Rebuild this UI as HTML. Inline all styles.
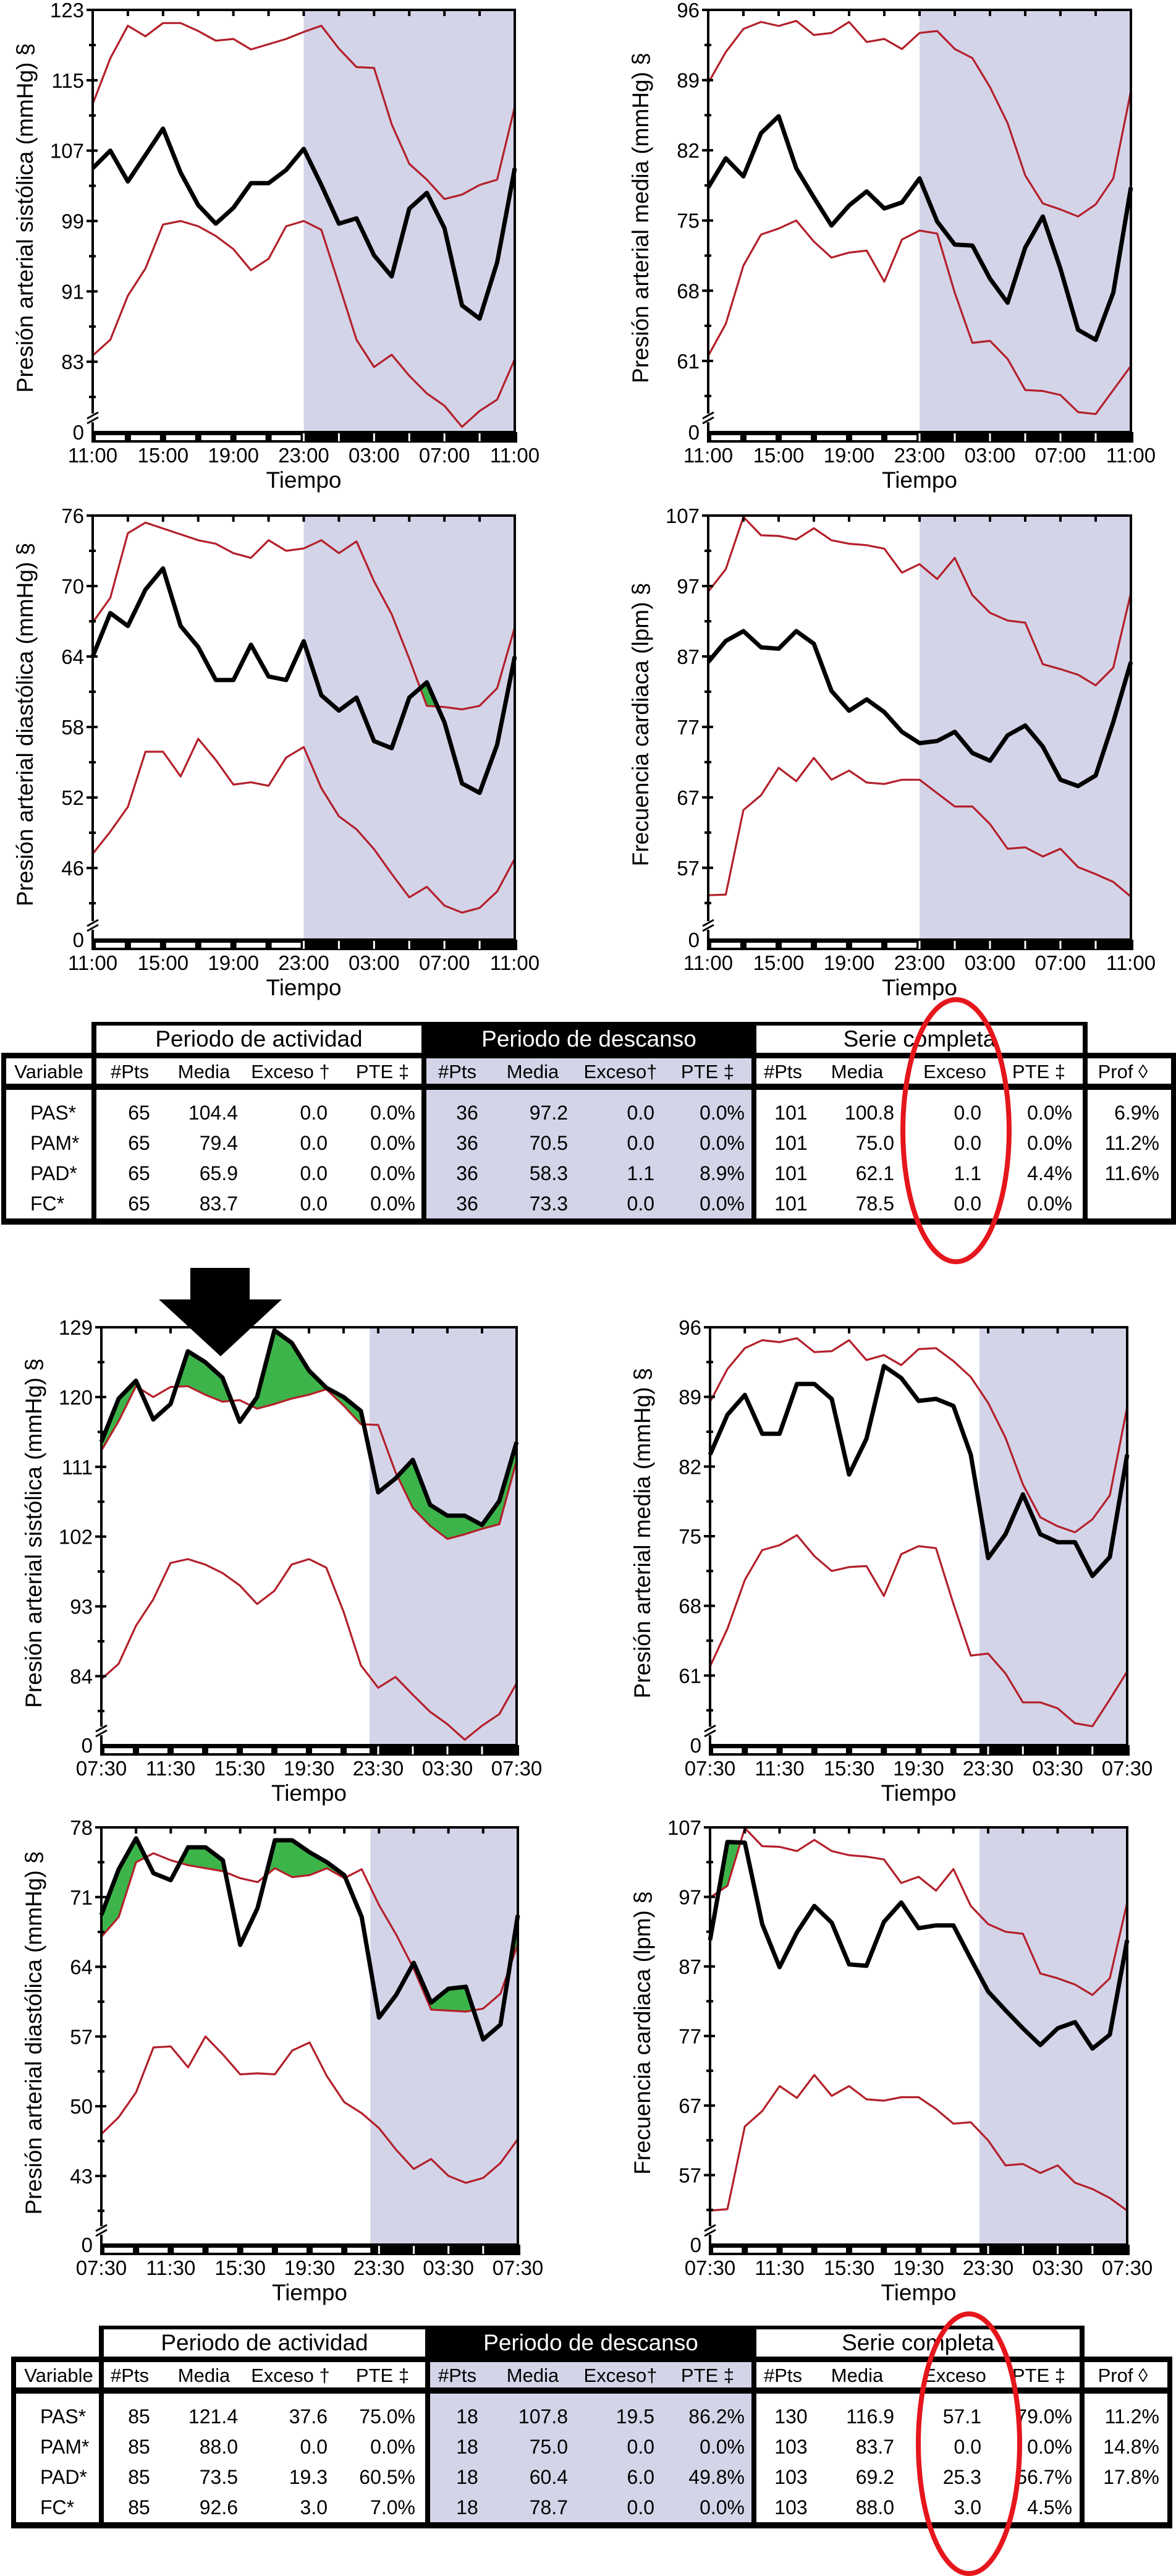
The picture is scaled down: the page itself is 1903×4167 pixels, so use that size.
<!DOCTYPE html>
<html><head><meta charset="utf-8"><title>MAPA</title>
<style>
html,body{margin:0;padding:0;background:#fff;}
svg{display:block;}
text{font-family:"Liberation Sans",Arial,sans-serif;}
</style></head>
<body>
<svg id="fig" xmlns="http://www.w3.org/2000/svg" width="1903" height="4167" viewBox="0 0 1903 4167">
<rect x="0" y="0" width="1903" height="4167" fill="#fff"/>
<g id="arrow">
<rect x="308" y="2051" width="96" height="52" fill="#000"/>
<polygon points="257,2102 456,2102 357,2194" fill="#000"/>
</g>
</svg>
<script>
const hours = [0,1,2,3,4,5,6,7,8,9,10,11,12,13,14,15,16,17,18,19,20,21,22,23,24];
const labels1 = ['11:00','15:00','19:00','23:00','03:00','07:00','11:00'];
const labels2 = ['07:30','11:30','15:30','19:30','23:30','03:30','07:30'];

const pas1Ticks = [123,115,107,99,91,83];
const pas1Mean = [105.0,107.0,103.5,106.5,109.5,104.5,100.8,98.7,100.5,103.3,103.3,104.8,107.2,103.1,98.7,99.3,95.1,92.7,100.4,102.2,98.2,89.4,87.9,94.3,105.0];
const pas1Upper = [112.3,117.5,121.2,120.0,121.5,121.5,120.6,119.5,119.7,118.5,119.1,119.7,120.5,121.2,118.6,116.5,116.4,110.0,105.5,103.7,101.5,102.0,103.1,103.7,112.0];
const pas1Lower = [83.7,85.5,90.5,93.6,98.6,99.0,98.4,97.3,95.8,93.4,94.7,98.4,99.0,98.0,91.8,85.5,82.4,83.8,81.4,79.4,78.0,75.6,77.4,78.7,83.3];

const pam1Ticks = [96,89,82,75,68,61];
const pam1Mean = [78.3,81.2,79.4,83.7,85.4,80.2,77.3,74.5,76.5,77.9,76.2,76.8,79.2,74.9,72.6,72.5,69.2,66.8,72.3,75.4,70.2,64.1,63.1,67.8,78.3];
const pam1Upper = [88.7,91.8,94.1,94.8,94.4,94.9,93.5,93.7,94.8,92.8,93.1,92.1,93.7,93.9,92.1,91.2,88.3,84.7,79.5,76.7,76.1,75.4,76.6,79.2,87.9];
const pam1Lower = [61.5,64.7,70.5,73.6,74.2,75.0,72.9,71.3,71.8,72.0,68.9,73.1,74.0,73.7,67.8,62.8,63.0,61.2,58.1,58.0,57.6,55.9,55.7,58.1,60.5];

const pad1Ticks = [76,70,64,58,52,46];
const pad1Mean = [64.0,67.7,66.6,69.7,71.5,66.6,64.8,62.0,62.0,65.0,62.3,62.0,65.3,60.7,59.4,60.5,56.8,56.2,60.5,61.8,58.4,53.2,52.4,56.5,64.0];
const pad1Upper = [66.9,69.0,74.5,75.4,74.9,74.4,73.9,73.6,72.8,72.4,73.9,73.0,73.2,73.9,72.8,73.8,70.4,67.6,63.8,59.8,59.7,59.5,59.8,61.3,66.5];
const pad1Lower = [47.2,49.1,51.2,55.9,55.9,53.8,57.0,55.2,53.1,53.3,53.0,55.4,56.3,52.8,50.4,49.3,47.6,45.5,43.5,44.4,42.8,42.2,42.6,44.0,46.8];

const fc1Ticks = [107,97,87,77,67,57];
const fc1Mean = [86.2,89.2,90.6,88.3,88.1,90.6,88.8,82.1,79.3,80.9,79.1,76.3,74.7,75.0,76.3,73.3,72.2,75.8,77.2,74.2,69.5,68.6,70.1,77.7,86.2];
const fc1Upper = [96.2,99.4,106.8,104.2,104.1,103.6,105.2,103.5,103.0,102.8,102.3,98.9,100.1,98.0,101.0,95.7,93.2,92.1,91.8,85.9,85.2,84.4,82.9,85.4,96.0];
const fc1Lower = [53.1,53.2,65.2,67.3,71.2,69.3,72.6,69.5,70.8,69.1,68.9,69.5,69.5,67.6,65.7,65.7,63.2,59.7,59.9,58.6,59.7,57.1,56.1,55.0,52.9];

const pas2Ticks = [129,120,111,102,93,84];
const pas2Mean = [114.2,119.8,122.1,117.1,119.1,125.9,124.5,122.5,116.8,120.0,128.6,127.0,123.4,121.2,120.0,118.2,107.7,109.5,111.9,106.1,104.7,104.7,103.5,106.6,114.2];
const pas2Upper = [113.1,116.9,121.4,120.0,121.3,121.4,120.3,119.4,119.6,118.5,119.1,119.8,120.3,121.0,118.9,116.5,116.4,110.3,105.7,103.4,101.7,102.3,103.0,103.6,111.8];
const pas2Lower = [83.6,85.6,90.5,93.9,98.6,99.1,98.4,97.3,95.7,93.3,95.0,98.4,99.1,98.0,92.3,85.4,82.5,83.9,81.6,79.4,77.8,75.8,77.6,79.1,83.1];

const pam2Ticks = [96,89,82,75,68,61];
const pam2Mean = [83.2,87.2,89.2,85.3,85.3,90.3,90.3,88.8,81.2,84.8,92.1,90.9,88.6,88.8,88.1,83.2,72.8,75.2,79.2,75.2,74.4,74.4,71.0,72.9,83.2];
const pam2Upper = [88.5,91.8,93.9,94.7,94.5,94.9,93.5,93.6,94.7,92.7,93.2,92.2,93.8,93.9,92.6,91.0,88.4,84.9,80.2,76.9,76.0,75.4,76.7,79.1,88.0];
const pam2Lower = [61.9,65.7,70.6,73.6,74.1,75.1,73.0,71.5,71.9,72.0,69.0,73.2,74.0,73.8,68.2,63.0,63.2,61.2,58.3,58.3,57.7,56.2,55.9,58.6,61.4];

const pad2Ticks = [78,71,64,57,50,43];
const pad2Mean = [69.2,73.8,76.9,73.4,72.7,76.0,76.0,74.7,66.2,69.9,76.7,76.7,75.5,74.5,73.2,69.0,58.9,61.2,64.4,60.4,61.8,62.0,56.7,58.2,69.2];
const pad2Upper = [67.0,69.0,74.5,75.4,74.7,74.2,73.9,73.6,72.9,72.5,73.9,73.0,73.2,73.9,72.9,73.8,70.2,67.2,63.8,59.7,59.6,59.5,59.8,61.3,66.3];
const pad2Lower = [47.2,48.9,51.4,55.9,56.0,53.9,57.0,55.2,53.2,53.3,53.2,55.6,56.4,53.0,50.4,49.3,47.8,45.6,43.7,44.7,43.0,42.3,42.8,44.3,46.7];

const fc2Ticks = [107,97,87,77,67,57];
const fc2Mean = [90.8,104.9,104.8,93.1,86.9,91.9,95.7,93.3,87.3,87.1,93.4,96.2,92.5,92.9,92.9,88.1,83.4,80.7,78.1,75.7,78.1,79.0,75.2,77.2,90.8];
const fc2Upper = [96.9,98.6,106.9,104.3,104.2,103.6,105.2,103.6,103.0,102.8,102.4,99.0,99.9,97.9,101.0,95.7,93.1,92.0,91.7,86.0,85.3,84.4,82.9,85.3,96.2];
const fc2Lower = [51.9,52.1,64.0,66.2,69.8,68.1,71.4,68.4,69.8,67.9,67.7,68.2,68.2,66.5,64.4,64.6,62.0,58.4,58.6,57.3,58.4,55.9,55.0,53.7,51.9];

const tableHeadCols = ['Variable','#Pts','Media','Exceso †','PTE ‡','#Pts','Media','Exceso†','PTE ‡','#Pts','Media','Exceso','PTE ‡','Prof ◊'];
const tableVars = ['PAS*','PAM*','PAD*','FC*'];
const table1Rows = [
 ['65','104.4','0.0','0.0%','36','97.2','0.0','0.0%','101','100.8','0.0','0.0%','6.9%'],
 ['65','79.4','0.0','0.0%','36','70.5','0.0','0.0%','101','75.0','0.0','0.0%','11.2%'],
 ['65','65.9','0.0','0.0%','36','58.3','1.1','8.9%','101','62.1','1.1','4.4%','11.6%'],
 ['65','83.7','0.0','0.0%','36','73.3','0.0','0.0%','101','78.5','0.0','0.0%','']
];
const table2Rows = [
 ['85','121.4','37.6','75.0%','18','107.8','19.5','86.2%','130','116.9','57.1','79.0%','11.2%'],
 ['85','88.0','0.0','0.0%','18','75.0','0.0','0.0%','103','83.7','0.0','0.0%','14.8%'],
 ['85','73.5','19.3','60.5%','18','60.4','6.0','49.8%','103','69.2','25.3','56.7%','17.8%'],
 ['85','92.6','3.0','7.0%','18','78.7','0.0','0.0%','103','88.0','3.0','4.5%','']
];

const NS = 'http://www.w3.org/2000/svg';
const svg = document.getElementById('fig');
function mk(tag, attrs, parent){
  const e = document.createElementNS(NS, tag);
  for (const k in attrs) e.setAttribute(k, attrs[k]);
  (parent || svg).appendChild(e);
  return e;
}
const RED = '#b3202a', LAV = '#d4d4e9', GREEN = '#3db44a';

function drawChart(c){
  const g = mk('g', {});
  
  
  const x = h => c.L + (c.R - c.L) * h / 24;
  const y = v => c.T + (c.vTop - v) / (c.vTop - c.vBot) * (c.B - c.T);
  const xs = x(c.shade);
  const sh = mk('rect', {x: xs, y: c.T, width: c.R - xs, height: c.B - c.T, fill: LAV}, g);
  
  
  // green excess fill
  const cid = c.id + '-clip';
  const cp = mk('clipPath', {id: cid}, g);
  let cd = 'M' + x(0) + ',' + (c.T - 20);
  hours.forEach((h, i) => { cd += ' L' + x(h) + ',' + y(c.upper[i]); });
  cd += ' L' + x(24) + ',' + (c.T - 20) + ' Z';
  mk('path', {d: cd}, cp);
  let fd = '';
  hours.forEach((h, i) => { fd += (i ? ' L' : 'M') + x(h) + ',' + y(c.mean[i]); });
  for (let i = hours.length - 1; i >= 0; i--) fd += ' L' + x(hours[i]) + ',' + y(c.upper[i]);
  fd += ' Z';
  const gf = mk('path', {d: fd, fill: GREEN, 'clip-path': 'url(#' + cid + ')'}, g);
  
  
  function line(arr, color, w){
    let d = '';
    hours.forEach((h, i) => { d += (i ? ' L' : 'M') + x(h).toFixed(1) + ',' + y(arr[i]).toFixed(1); });
    return mk('path', {d: d, fill: 'none', stroke: color, 'stroke-width': w, 'stroke-linejoin': 'round'}, g);
  }
  const up = line(c.upper, RED, 3.2);
  
  
  const lo = line(c.lower, RED, 3.2);
  
  
  const me = line(c.mean, '#000', 7);
  
  
  // frame
  const fr = mk('rect', {x: c.L, y: c.T, width: c.R - c.L, height: c.B - c.T, fill: 'none', stroke: '#000', 'stroke-width': 4}, g);
  
  
  // y ticks
  c.ticks.forEach((v, i) => {
    mk('line', {x1: c.L - 10, x2: c.L + 8, y1: y(v), y2: y(v), stroke: '#000', 'stroke-width': 4}, g);
    const t = mk('text', {x: c.L - 14, y: y(v) + 12, 'text-anchor': 'end', 'font-size': 33}, g);
    t.textContent = v;
    
    
    const step = c.ticks[0] - c.ticks[1];
    const mv = v - step / 2;
    mk('line', {x1: c.L - 6, x2: c.L + 5, y1: y(mv), y2: y(mv), stroke: '#000', 'stroke-width': 4}, g);
  });
  const z = mk('text', {x: c.L - 14, y: c.B + 12, 'text-anchor': 'end', 'font-size': 33}, g);
  z.textContent = '0';
  
  
  // axis break
  mk('rect', {x: c.L - 8, y: c.B - 30, width: 16, height: 14, fill: '#fff'}, g);
  mk('line', {x1: c.L - 9, y1: c.B - 14, x2: c.L + 9, y2: c.B - 24, stroke: '#000', 'stroke-width': 3}, g);
  mk('line', {x1: c.L - 9, y1: c.B - 22, x2: c.L + 9, y2: c.B - 32, stroke: '#000', 'stroke-width': 3}, g);
  // top ticks
  for (let k = 0; k <= 12; k++) mk('line', {x1: x(2 * k), x2: x(2 * k), y1: c.T, y2: c.T + 10, stroke: '#000', 'stroke-width': 4}, g);
  // time bar
  const bar = mk('rect', {x: c.L - 2, y: c.B, width: c.R - c.L + 6, height: 17, fill: '#000'}, g);
  
  
  for (let k = 0; k < 12; k++) {
    const x0 = x(2 * k), x1 = x(2 * k + 2);
    if (x0 < xs) {
      const xe = Math.min(x1, xs);
      mk('rect', {x: x0 + 5, y: c.B + 5, width: Math.max(0, xe - x0 - (x1 <= xs ? 10 : 5)), height: 8, fill: '#fff'}, g);
    } else {
      mk('rect', {x: x0 - 1.5, y: c.B + 2, width: 3, height: 13, fill: '#fff'}, g);
    }
  }
  // x labels
  c.labels.forEach((s, i) => {
    const t = mk('text', {x: x(4 * i), y: c.B + 49, 'text-anchor': 'middle', 'font-size': 33}, g);
    t.textContent = s;
    
    
  });
  const xt = mk('text', {x: (c.L + c.R) / 2, y: c.B + 90, 'text-anchor': 'middle', 'font-size': 37}, g);
  xt.textContent = 'Tiempo';
  
  
  const cy = (c.T + c.B) / 2 - 5, cx = c.L - 110 + 13;
  const yt = mk('text', {x: cx, y: cy, 'text-anchor': 'middle', 'font-size': 37, transform: 'rotate(-90 ' + cx + ' ' + cy + ')'}, g);
  yt.textContent = c.title;
  
  
}

drawChart({id:'pas1',L:150,R:833,T:16,B:699,vTop:123,vBot:75.0,ticks:pas1Ticks,labels:labels1,shade:12,title:'Presión arterial sistólica (mmHg) §',mean:pas1Mean,upper:pas1Upper,lower:pas1Lower});
drawChart({id:'pam1',L:1146,R:1830,T:16,B:699,vTop:96,vBot:53.9,ticks:pam1Ticks,labels:labels1,shade:12,title:'Presión arterial media (mmHg) §',mean:pam1Mean,upper:pam1Upper,lower:pam1Lower});
drawChart({id:'pad1',L:150,R:833,T:834,B:1520,vTop:76,vBot:39.9,ticks:pad1Ticks,labels:labels1,shade:12,title:'Presión arterial diastólica (mmHg) §',mean:pad1Mean,upper:pad1Upper,lower:pad1Lower});
drawChart({id:'fc1',L:1146,R:1830,T:834,B:1520,vTop:107,vBot:46.8,ticks:fc1Ticks,labels:labels1,shade:12,title:'Frecuencia cardiaca (lpm) §',mean:fc1Mean,upper:fc1Upper,lower:fc1Lower});
drawChart({id:'pas2',L:164,R:836,T:2147,B:2823,vTop:129,vBot:75.1,ticks:pas2Ticks,labels:labels2,shade:15.5,title:'Presión arterial sistólica (mmHg) §',mean:pas2Mean,upper:pas2Upper,lower:pas2Lower});
drawChart({id:'pam2',L:1149,R:1824,T:2147,B:2823,vTop:96,vBot:54.0,ticks:pam2Ticks,labels:labels2,shade:15.5,title:'Presión arterial media (mmHg) §',mean:pam2Mean,upper:pam2Upper,lower:pam2Lower});
drawChart({id:'pad2',L:164,R:838,T:2956,B:3631,vTop:78,vBot:36.1,ticks:pad2Ticks,labels:labels2,shade:15.5,title:'Presión arterial diastólica (mmHg) §',mean:pad2Mean,upper:pad2Upper,lower:pad2Lower});
drawChart({id:'fc2',L:1149,R:1824,T:2956,B:3631,vTop:107,vBot:47.0,ticks:fc2Ticks,labels:labels2,shade:15.5,title:'Frecuencia cardiaca (lpm) §',mean:fc2Mean,upper:fc2Upper,lower:fc2Lower});

const headX = [0,210,330,470,619,740,862,1004,1145,1267,1387,1545,1681,1817];
const cellX = [225,385,530,672,756,919,1059,1205,1280,1447,1588,1735,1876];
const cellAnchor = ['middle','end','end','end','middle','end','end','end','middle','end','end','end','end'];

function drawTable(id, top, G, rows){
  const g = mk('g', {});
  
  
  const [L, g1, g2, g3, g4, R] = G;
  // backgrounds
  mk('rect', {x: g1, y: top, width: g4 - g1, height: 56, fill: '#fff'}, g);
  mk('rect', {x: g2, y: top, width: g3 - g2, height: 56, fill: '#000'}, g);
  mk('rect', {x: L, y: top + 56, width: R - L, height: 272, fill: '#fff'}, g);
  mk('rect', {x: g2, y: top + 56, width: g3 - g2, height: 262, fill: LAV}, g);
  // bars
  mk('rect', {x: g1, y: top, width: g4 - g1, height: 6, fill: '#000'}, g);
  mk('rect', {x: L, y: top + 50, width: R - L, height: 9, fill: '#000'}, g);
  mk('rect', {x: L, y: top + 100, width: R - L, height: 10, fill: '#000'}, g);
  mk('rect', {x: L, y: top + 318, width: R - L, height: 10, fill: '#000'}, g);
  [L, g1, g2, g3, g4, R].forEach((vx, i) => {
    const t0 = (i === 0 || i === 5) ? top + 50 : top;
    mk('rect', {x: vx - 4, y: t0, width: 8, height: top + 328 - t0, fill: '#000'}, g);
  });
  const groups = [['Periodo de actividad', g1, g2, '#000'], ['Periodo de descanso', g2, g3, '#fff'], ['Serie completa', g3, g4, '#000']];
  groups.forEach(gr => {
    const t = mk('text', {x: (gr[1] + gr[2]) / 2, y: top + 40, 'text-anchor': 'middle', 'font-size': 37, fill: gr[3]}, g);
    t.textContent = gr[0];
    
    
  });
  tableHeadCols.forEach((s, i) => {
    const hx = i === 0 ? L + 73 : headX[i];
    const t = mk('text', {x: hx, y: top + 91, 'text-anchor': 'middle', 'font-size': 31}, g);
    t.textContent = s;
    
    
  });
  rows.forEach((r, ri) => {
    const ry = top + 147 + ri * 49 + 11;
    const v = mk('text', {x: L + 43, y: ry, 'font-size': 32}, g);
    v.textContent = tableVars[ri];
    
    
    r.forEach((s, ci) => {
      const t = mk('text', {x: cellX[ci], y: ry, 'text-anchor': cellAnchor[ci], 'font-size': 32}, g);
      t.textContent = s;
      
      
    });
  });
}
drawTable('summary-table-1', 1653, [6, 152, 686, 1220, 1756, 1899], table1Rows);
drawTable('summary-table-2', 3762, [22, 164, 692, 1220, 1751, 1893], table2Rows);

const e1 = mk('ellipse', {cx: 1547, cy: 1829, rx: 86, ry: 212, fill: 'none', stroke: '#e5161c', 'stroke-width': 8});


const e2 = mk('ellipse', {cx: 1568, cy: 3953, rx: 82, ry: 210, fill: 'none', stroke: '#e5161c', 'stroke-width': 8});


svg.appendChild(document.getElementById('arrow'));
</script>
</body></html>
